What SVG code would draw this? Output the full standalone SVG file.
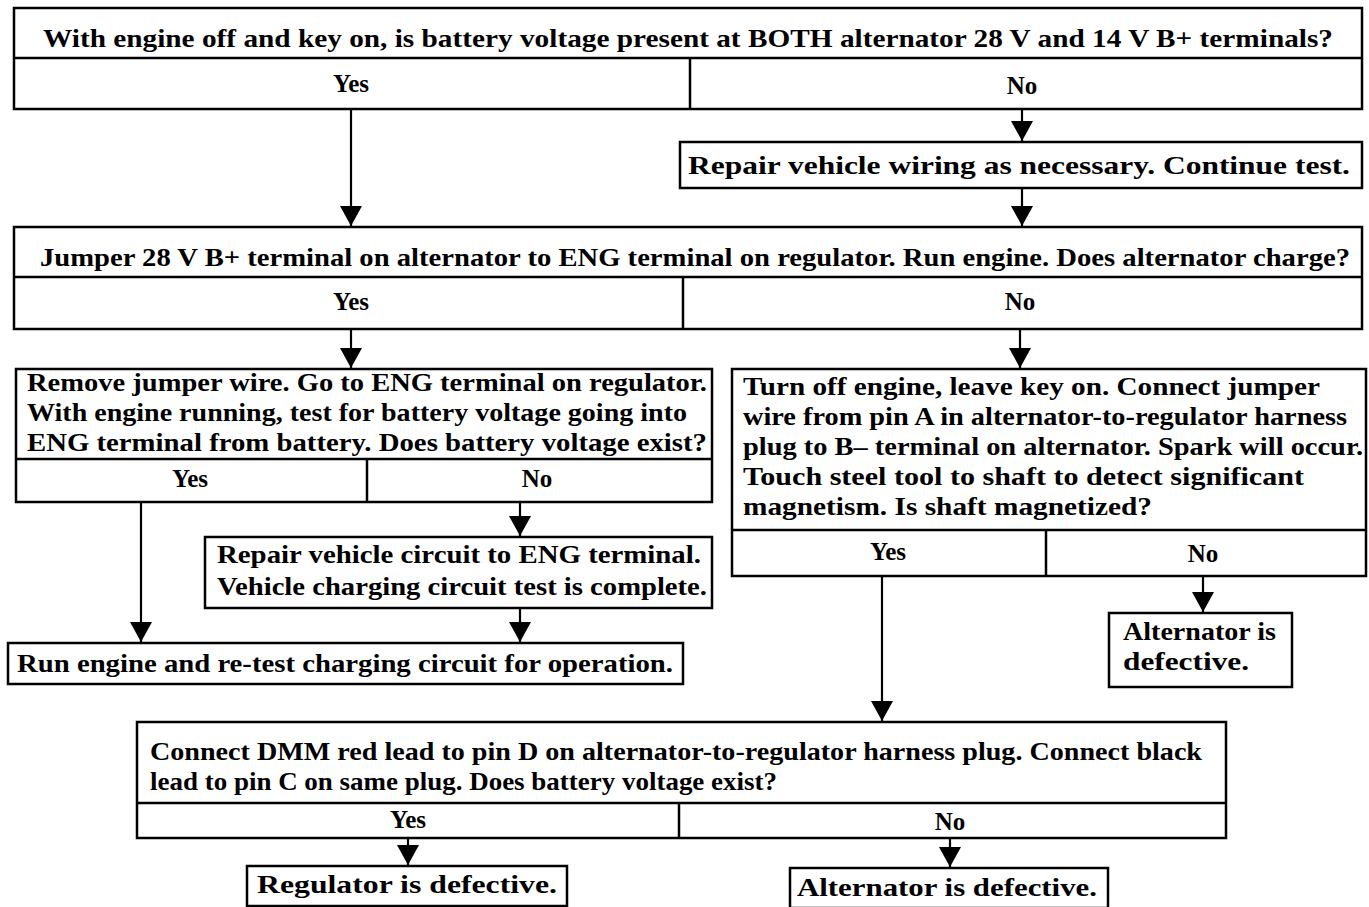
<svg xmlns="http://www.w3.org/2000/svg" width="1369" height="907" viewBox="0 0 1369 907">
<defs>
<style>
.b{fill:#fff;stroke:#000;stroke-width:2.5}
.l{stroke:#000;stroke-width:2.5;fill:none}
.c{stroke:#000;stroke-width:2.2;fill:none;marker-end:url(#ah)}
text{font-family:"Liberation Serif","Times New Roman",serif;font-weight:bold;font-size:25px;fill:#000}
.m{text-anchor:middle}
</style>
<marker id="ah" viewBox="0 0 20 22" refX="20" refY="11" markerWidth="20" markerHeight="22" markerUnits="userSpaceOnUse" orient="auto">
<path d="M0,0 L20,11 L0,22 Z" fill="#000"/>
</marker>
</defs>
<rect width="1369" height="907" fill="#fff"/>
<g id="connectors">
<line class="c" x1="351" y1="109" x2="351" y2="226"/>
<line class="c" x1="1022" y1="109" x2="1022" y2="141"/>
<line class="c" x1="1022" y1="188" x2="1022" y2="226"/>
<line class="c" x1="351" y1="329" x2="351" y2="368"/>
<line class="c" x1="1020" y1="329" x2="1020" y2="368"/>
<line class="c" x1="141" y1="502" x2="141" y2="642"/>
<line class="c" x1="520" y1="502" x2="520" y2="536"/>
<line class="c" x1="520" y1="608" x2="520" y2="642"/>
<line class="c" x1="882" y1="576" x2="882" y2="721"/>
<line class="c" x1="1203" y1="576" x2="1203" y2="612"/>
<line class="c" x1="408" y1="838" x2="408" y2="865"/>
<line class="c" x1="950" y1="838" x2="950" y2="867"/>
</g>
<g id="q1">
<rect class="b" x="14" y="8" width="1348" height="101"/>
<line class="l" x1="14" y1="58" x2="1362" y2="58"/>
<line class="l" x1="690" y1="58" x2="690" y2="109"/>
<text x="43" y="47" textLength="1290" lengthAdjust="spacingAndGlyphs">With engine off and key on, is battery voltage present at BOTH alternator 28 V and 14 V B+ terminals?</text>
<text class="m" x="351" y="92">Yes</text>
<text class="m" x="1022" y="94">No</text>
</g>
<g id="repair-wiring">
<rect class="b" x="680" y="142" width="682" height="46"/>
<text x="688" y="174" textLength="662" lengthAdjust="spacingAndGlyphs">Repair vehicle wiring as necessary. Continue test.</text>
</g>
<g id="q2">
<rect class="b" x="14" y="227" width="1348" height="102"/>
<line class="l" x1="14" y1="277" x2="1362" y2="277"/>
<line class="l" x1="683" y1="277" x2="683" y2="329"/>
<text x="40" y="266" textLength="1310" lengthAdjust="spacingAndGlyphs">Jumper 28 V B+ terminal on alternator to ENG terminal on regulator. Run engine. Does alternator charge?</text>
<text class="m" x="351" y="310">Yes</text>
<text class="m" x="1020" y="310">No</text>
</g>
<g id="q3">
<rect class="b" x="16" y="369" width="696" height="133"/>
<line class="l" x1="16" y1="459" x2="712" y2="459"/>
<line class="l" x1="367" y1="459" x2="367" y2="502"/>
<text x="27" y="391" textLength="680" lengthAdjust="spacingAndGlyphs">Remove jumper wire. Go to ENG terminal on regulator.</text>
<text x="27" y="421" textLength="660" lengthAdjust="spacingAndGlyphs">With engine running, test for battery voltage going into</text>
<text x="27" y="451" textLength="680" lengthAdjust="spacingAndGlyphs">ENG terminal from battery. Does battery voltage exist?</text>
<text class="m" x="190" y="487">Yes</text>
<text class="m" x="537" y="487">No</text>
</g>
<g id="repair-circuit">
<rect class="b" x="205" y="537" width="507" height="71"/>
<text x="217" y="563" textLength="484" lengthAdjust="spacingAndGlyphs">Repair vehicle circuit to ENG terminal.</text>
<text x="217" y="595" textLength="490" lengthAdjust="spacingAndGlyphs">Vehicle charging circuit test is complete.</text>
</g>
<g id="run-engine">
<rect class="b" x="8" y="643" width="675" height="41"/>
<text x="17" y="672" textLength="656" lengthAdjust="spacingAndGlyphs">Run engine and re-test charging circuit for operation.</text>
</g>
<g id="q4">
<rect class="b" x="732" y="369" width="634" height="207"/>
<line class="l" x1="732" y1="530" x2="1366" y2="530"/>
<line class="l" x1="1046" y1="530" x2="1046" y2="576"/>
<text x="743" y="395" textLength="577" lengthAdjust="spacingAndGlyphs">Turn off engine, leave key on. Connect jumper</text>
<text x="743" y="425" textLength="604" lengthAdjust="spacingAndGlyphs">wire from pin A in alternator-to-regulator harness</text>
<text x="743" y="455" textLength="620" lengthAdjust="spacingAndGlyphs">plug to B– terminal on alternator. Spark will occur.</text>
<text x="743" y="485" textLength="561" lengthAdjust="spacingAndGlyphs">Touch steel tool to shaft to detect significant</text>
<text x="743" y="515" textLength="409" lengthAdjust="spacingAndGlyphs">magnetism. Is shaft magnetized?</text>
<text class="m" x="888" y="560">Yes</text>
<text class="m" x="1203" y="562">No</text>
</g>
<g id="alt-defective-1">
<rect class="b" x="1109" y="613" width="183" height="74"/>
<text x="1123" y="640" textLength="153" lengthAdjust="spacingAndGlyphs">Alternator is</text>
<text x="1123" y="670" textLength="126" lengthAdjust="spacingAndGlyphs">defective.</text>
</g>
<g id="q5">
<rect class="b" x="137" y="722" width="1089" height="116"/>
<line class="l" x1="137" y1="803" x2="1226" y2="803"/>
<line class="l" x1="679" y1="803" x2="679" y2="838"/>
<text x="150" y="760" textLength="1052" lengthAdjust="spacingAndGlyphs">Connect DMM red lead to pin D on alternator-to-regulator harness plug. Connect black</text>
<text x="150" y="790" textLength="627" lengthAdjust="spacingAndGlyphs">lead to pin C on same plug. Does battery voltage exist?</text>
<text class="m" x="408" y="828">Yes</text>
<text class="m" x="950" y="830">No</text>
</g>
<g id="reg-defective">
<rect class="b" x="247" y="866" width="320" height="40"/>
<text x="257" y="893" textLength="300" lengthAdjust="spacingAndGlyphs">Regulator is defective.</text>
</g>
<g id="alt-defective-2">
<rect class="b" x="790" y="868" width="318" height="40"/>
<text x="797" y="896" textLength="300" lengthAdjust="spacingAndGlyphs">Alternator is defective.</text>
</g>
</svg>
